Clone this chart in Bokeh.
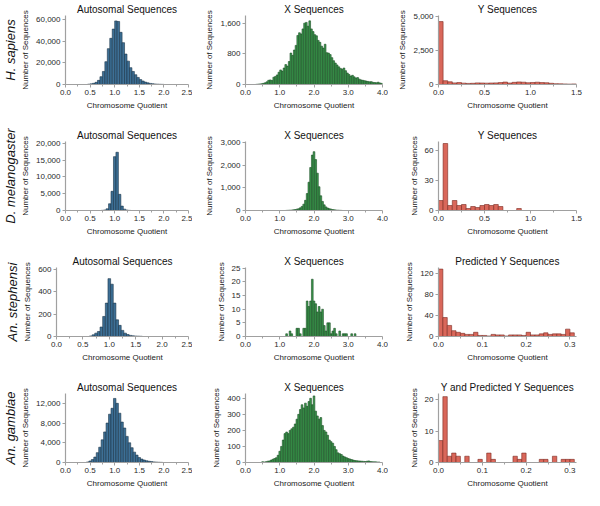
from bokeh.plotting import figure
from bokeh.layouts import column, row
from bokeh.models import Title, NumeralTickFormatter, FixedTicker, Range1d, ColumnDataSource
from bokeh.embed import file_html
from bokeh.resources import INLINE

# ---------------- data ----------------
species = ["H. sapiens", "D. melanogaster", "An. stephensi", "An. gambiae"]
panel_titles = [
    ["Autosomal Sequences", "X Sequences", "Y Sequences"],
    ["Autosomal Sequences", "X Sequences", "Y Sequences"],
    ["Autosomal Sequences", "X Sequences", "Predicted Y Sequences"],
    ["Autosomal Sequences", "X Sequences", "Y and Predicted Y Sequences"],
]
x_label = "Chromosome Quotient"
y_label = "Number of Sequences"

# histogram bins: first left edge, bin width, counts
hs_auto_start, hs_auto_width = 0.45, 0.05
hs_auto_counts = [300, 600, 1100, 2000, 3800, 7200, 12000, 21000, 33000, 42500, 51000,
                  58500, 58000, 48000, 38500, 28000, 21500, 15500, 12000, 9000, 6500,
                  4500, 3200, 2200, 1500, 1000, 700, 450, 300, 200, 120]
hs_x_start, hs_x_width = 0.30, 0.05
hs_x_counts = [5, 10, 15, 20, 30, 45, 70, 110, 120, 105, 190, 210, 250, 320, 380, 350,
               430, 520, 480, 600, 820, 760, 900, 1020, 1280, 1350, 1320, 1450, 1600,
               1620, 1520, 1660, 1450, 1380, 1300, 1270, 1150, 1100, 1000, 950, 1050,
               830, 820, 780, 700, 620, 560, 510, 460, 420, 400, 430, 360, 300, 260,
               220, 240, 200, 170, 180, 140, 120, 110, 100, 90, 80, 70, 75, 55, 50,
               45, 60, 40, 30]
hs_y_start, hs_y_width = 0.0, 0.05
hs_y_counts = [4650, 280, 200, 120, 140, 100, 80, 90, 120, 110, 100, 110, 120, 140, 180,
               110, 160, 190, 170, 130, 150, 170, 140, 130, 90, 60, 50, 40, 30, 40]

dm_auto_start, dm_auto_width = 0.725, 0.05
dm_auto_counts = [50, 150, 500, 2000, 5700, 16000, 17300, 4800, 1300, 400, 120, 40]
dm_x_start, dm_x_width = 1.175, 0.05
dm_x_counts = [5, 10, 15, 20, 30, 40, 60, 80, 120, 180, 280, 450, 750, 1250, 1900, 2450,
               2600, 2250, 1650, 1050, 650, 400, 250, 160, 110, 80, 60, 40, 30, 20, 15,
               10, 5]
dm_y_start, dm_y_width = 0.0, 0.05
dm_y_counts = [10, 67, 5, 10, 5, 6, 2, 4, 3, 5, 6, 5, 6, 4, 0, 0, 0, 2]

as_auto_start, as_auto_width = 0.625, 0.05
as_auto_counts = [5, 15, 30, 45, 85, 180, 300, 520, 470, 300, 150, 100, 55, 30, 18, 10,
                  6, 4, 3, 2]
as_x_start, as_x_width = 1.175, 0.05
as_x_counts = [1, 0, 2, 1, 0, 0, 3, 3, 1, 0, 3, 3, 13, 11, 13, 21, 13, 12, 9, 11, 9, 10,
               4, 2, 5, 5, 1, 2, 3, 1, 0, 2, 0, 1, 1, 1, 0, 0, 1, 0, 1]
as_y_start, as_y_width = 0.0, 0.01
as_y_counts = [128, 36, 21, 11, 8, 6, 4, 4, 8, 2, 2, 1, 4, 3, 3, 1, 3, 3, 3, 2, 8, 3, 3,
               5, 7, 4, 5, 5, 4, 14, 7]

ag_auto_start, ag_auto_width = 0.425, 0.05
ag_auto_counts = [100, 300, 600, 1100, 2000, 3100, 4600, 6200, 8000, 9800, 11000, 13000,
                  12000, 10000, 8200, 7000, 5300, 4000, 3000, 2100, 1500, 1000, 700, 500,
                  350, 250, 180, 120, 80, 50, 30]
ag_x_start, ag_x_width = 0.475, 0.05
ag_x_counts = [5, 3, 5, 8, 10, 15, 20, 25, 30, 45, 70, 100, 140, 180, 190, 180, 200, 210,
               220, 240, 270, 300, 330, 360, 340, 370, 350, 380, 400, 360, 415, 320, 290,
               270, 280, 230, 200, 190, 170, 140, 130, 120, 100, 80, 60, 55, 50, 40, 35,
               30, 25, 22, 18, 15, 12, 11, 10, 9, 8, 7, 6, 8, 10, 6, 5, 4, 4, 3, 3]
ag_y_start, ag_y_width = 0.0, 0.01
ag_y_counts = [7, 21, 2, 3, 2, 0, 2, 0, 0, 1, 0, 3, 1, 0, 0, 0, 0, 2, 1, 3, 0, 0, 0, 1, 1,
               0, 2, 0, 1, 1, 1]

# axis extents and ticks
auto_x_end, auto_x_ticks = 2.5, [0.0, 0.5, 1.0, 1.5, 2.0, 2.5]
xchr_x_end, xchr_x_ticks = 4.0, [0.0, 1.0, 2.0, 3.0, 4.0]
y_long_end, y_long_ticks = 1.5, [0.0, 0.5, 1.0, 1.5]
y_short_end, y_short_ticks = 0.315, [0.0, 0.1, 0.2, 0.3]

y_ends = [[63500, 1800, 5100], [20500, 3050, 69], [620, 25.3, 131], [14000, 430, 22]]
y_ticks = [
    [[0, 20000, 40000, 60000], [0, 800, 1600], [0, 2500, 5000]],
    [[0, 5000, 10000, 15000, 20000], [0, 1000, 2000, 3000], [0, 30, 60]],
    [[0, 200, 400, 600], [0, 5, 10, 15, 20, 25], [0, 40, 80, 120]],
    [[0, 4000, 8000, 12000], [0, 100, 200, 300, 400], [0, 10, 20]],
]

hist = [
    [(hs_auto_start, hs_auto_width, hs_auto_counts), (hs_x_start, hs_x_width, hs_x_counts), (hs_y_start, hs_y_width, hs_y_counts)],
    [(dm_auto_start, dm_auto_width, dm_auto_counts), (dm_x_start, dm_x_width, dm_x_counts), (dm_y_start, dm_y_width, dm_y_counts)],
    [(as_auto_start, as_auto_width, as_auto_counts), (as_x_start, as_x_width, as_x_counts), (as_y_start, as_y_width, as_y_counts)],
    [(ag_auto_start, ag_auto_width, ag_auto_counts), (ag_x_start, ag_x_width, ag_x_counts), (ag_y_start, ag_y_width, ag_y_counts)],
]

# ---------------- styles ----------------
FONT = "Liberation Sans"
fills = ["#3d7096", "#3c9a4e", "#d9675a"]
lines = ["#1b3448", "#1b4d25", "#7a2a22"]
col_w = [192, 196, 196]
col_lb = [56, 53, 50]
col_rb = [4, 6, 8]
row_h = [126, 126, 126, 112]
row_bottom = [42, 42, 42, 28]


def make_panel(r, c):
    start, width, counts = hist[r][c]
    centers = [start + width * (i + 0.5) for i in range(len(counts))]
    src = ColumnDataSource(dict(x=centers, top=counts))
    if c == 0:
        x_end, x_ticks = auto_x_end, auto_x_ticks
    elif c == 1:
        x_end, x_ticks = xchr_x_end, xchr_x_ticks
    else:
        if r < 2:
            x_end, x_ticks = y_long_end, y_long_ticks
        else:
            x_end, x_ticks = y_short_end, y_short_ticks
    p = figure(width=col_w[c], height=row_h[r],
               x_range=Range1d(0, x_end), y_range=Range1d(0, y_ends[r][c]),
               output_backend="svg", toolbar_location=None,
               min_border_left=col_lb[c], min_border_right=col_rb[c],
               min_border_top=14, min_border_bottom=row_bottom[r],
               title=panel_titles[r][c])
    p.vbar(x="x", top="top", width=width, bottom=0, source=src,
           fill_color=fills[c], line_color=lines[c], line_width=0.6)

    p.title.align = "center"
    p.title.text_font = FONT
    p.title.text_font_size = "10px"
    p.title.text_font_style = "normal"
    p.title.text_color = "#111111"
    p.title.standoff = 2

    p.xgrid.visible = False
    p.ygrid.visible = False
    p.outline_line_color = None
    p.background_fill_color = "white"
    p.border_fill_color = "white"

    minor = [(x_ticks[i] + x_ticks[i + 1]) / 2 for i in range(len(x_ticks) - 1)]
    p.xaxis.ticker = FixedTicker(ticks=x_ticks, minor_ticks=minor)
    p.xaxis.formatter = NumeralTickFormatter(format="0.0")
    p.yaxis.ticker = FixedTicker(ticks=y_ticks[r][c], minor_ticks=[])
    p.yaxis.formatter = NumeralTickFormatter(format="0,0")
    p.xaxis.axis_label = x_label
    p.yaxis.axis_label = y_label

    for ax in (p.xaxis[0], p.yaxis[0]):
        ax.axis_line_color = "#a0a0a0"
        ax.axis_line_width = 1.2
        ax.major_tick_line_color = "#a0a0a0"
        ax.minor_tick_line_color = "#a0a0a0"
        ax.major_tick_out = 3
        ax.major_tick_in = 0
        ax.minor_tick_out = 2
        ax.minor_tick_in = 0
        ax.major_label_standoff = 2
        ax.major_label_text_font = FONT
        ax.major_label_text_font_size = "8px"
        ax.major_label_text_color = "#2a2a2a"
        ax.axis_label_text_font = FONT
        ax.axis_label_text_font_size = "8px"
        ax.axis_label_text_font_style = "normal"
        ax.axis_label_text_color = "#1a1a1a"
        ax.axis_label_standoff = 3

    if c == 0:
        p.add_layout(Title(text=species[r], align="center", text_font=FONT,
                           text_font_size="13px", text_font_style="italic",
                           text_color="#111111", standoff=1), "left")
    return p


rows = []
for r in range(4):
    rows.append(row(*[make_panel(r, c) for c in range(3)]))
layout = column(*rows)

open("out.html", "w").write(file_html(layout, INLINE))
